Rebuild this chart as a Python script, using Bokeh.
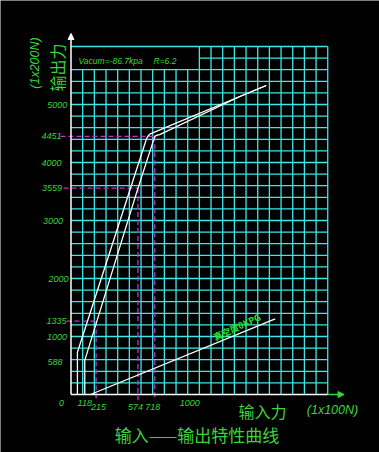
import numpy as np
from bokeh.plotting import figure
from bokeh.models import Range1d, Label, Arrow, NormalHead
from bokeh.embed import file_html
from bokeh.resources import INLINE

# ---------------- data ----------------
# curve A (upper / left branch)
curve_a_x = [55, 55, 647, 662, 680, 700, 1673]
curve_a_y = [0, 729, 4409, 4460, 4495, 4510, 5328]
# curve B (lower / right branch)
curve_b_x = [118, 118, 574, 718, 735, 760, 1452, 1673]
curve_b_y = [0, 588, 3559, 4451, 4470, 4480, 5142, 5328]
# vacuum 0 kPa line
vac_x = [167, 1750]
vac_y = [0, 1305]
# marked points (dashed guide lines); y of "1335" as drawn in the picture
mark_x = [215, 574, 718]
mark_y = [1265, 3559, 4451]

y_tick_labels = ["5000", "4451", "4000", "3559", "3000", "2000", "1335", "1000", "588"]
y_tick_values = [5000, 4451, 4000, 3559, 3000, 2000, 1265, 1000, 560]
x_tick_labels = ["118", "215", "574", "718", "1000"]
x_tick_values = [118, 215, 574, 718, 1000]

X_MAX, X_STEP = 2200, 100
Y_MAX, Y_STEP = 6000, 200
BOX_X, BOX_Y = 1100, 5600

# ---------------- layout helpers ----------------
W, H = 379, 452
X0_PX, SX = 70.5, 0.1167   # pixel of x=0, px per unit
Y0_PX, SY = 394.0, 0.058   # pixel (from top) of y=0, px per unit

GREEN = "#3cd43c"
CYAN = "#3ee6e6"
MAG = "#c832c8"

p = figure(width=W, height=H, output_backend="svg", toolbar_location=None,
           x_range=Range1d(-X0_PX / SX, (W - X0_PX) / SX),
           y_range=Range1d(-(H - Y0_PX) / SY, Y0_PX / SY),
           min_border=0)
p.axis.visible = False
p.grid.visible = False
p.outline_line_color = None
p.background_fill_color = "black"
p.border_fill_color = "black"

# ---------------- grid ----------------
gx0, gy0, gx1, gy1 = [], [], [], []
for xv in np.arange(X_STEP, X_MAX + 1, X_STEP):
    top = BOX_Y if xv < BOX_X else Y_MAX
    gx0.append(xv); gy0.append(0); gx1.append(xv); gy1.append(top)
for yv in np.arange(Y_STEP, Y_MAX + 1, Y_STEP):
    left = BOX_X if (BOX_Y < yv < Y_MAX) else 0
    gx0.append(left); gy0.append(yv); gx1.append(X_MAX); gy1.append(yv)
p.segment(gx0, gy0, gx1, gy1, line_color=CYAN, line_width=1.3)

# ---------------- dashed guide lines ----------------
ext_left = [-90, -64, -39][::-1]
for mx, my, el in zip(mark_x, mark_y, [-39, -64, -90]):
    p.line([el, mx], [my, my], line_color=MAG, line_width=1.3, line_dash="5 3")
    p.line([mx, mx], [my, -100], line_color=MAG, line_width=1.3, line_dash="5 3")

# ---------------- axes ----------------
p.line([0, X_MAX], [0, 0], line_color="white", line_width=1.5)
p.add_layout(Arrow(end=NormalHead(size=6, fill_color="white", line_color="white"),
                   x_start=0, y_start=0, x_end=0, y_end=Y_MAX + 225,
                   line_color="white", line_width=1.5))
p.add_layout(Arrow(end=NormalHead(size=6, fill_color=GREEN, line_color=GREEN),
                   x_start=X_MAX, y_start=0, x_end=X_MAX + 140, y_end=0,
                   line_color=GREEN, line_width=1.5))

# ---------------- curves ----------------
p.line(curve_a_x, curve_a_y, line_color="white", line_width=1.3)
p.line(curve_b_x, curve_b_y, line_color="white", line_width=1.3)
p.line(vac_x, vac_y, line_color="white", line_width=1.3)

# ---------------- texts ----------------
NUM_FONT = "Liberation Sans"
CJK_FONT = "Noto Sans CJK SC"

y_lab_px = [56.7, 51, 51, 51.5, 52.5, 58, 56, 56.5, 54.5]
for t, v, xp in zip(y_tick_labels, y_tick_values, y_lab_px):
    p.add_layout(Label(x=xp, y=v, x_units="screen", y_units="data", text=t,
                       text_font=NUM_FONT, text_font_style="italic",
                       text_font_size="9px", text_color=GREEN,
                       text_align="center", text_baseline="middle"))

x_lab_py = [402.5, 406.5, 406.5, 406.5, 402.5]
x_lab_dx = [0, 2.5, -2.5, -2, 2]
for t, v, yp, dx in zip(x_tick_labels, x_tick_values, x_lab_py, x_lab_dx):
    p.add_layout(Label(x=X0_PX + v * SX + dx, y=H - yp, x_units="screen", y_units="screen",
                       text=t, text_font=NUM_FONT, text_font_style="italic",
                       text_font_size="9px", text_color=GREEN,
                       text_align="center", text_baseline="middle"))
p.add_layout(Label(x=61, y=H - 402.5, x_units="screen", y_units="screen", text="0",
                   text_font=NUM_FONT, text_font_style="italic", text_font_size="9px",
                   text_color=GREEN, text_align="center", text_baseline="middle"))

# legend box text
p.add_layout(Label(x=78, y=H - 60, x_units="screen", y_units="screen",
                   text="Vacum=-86.7kpa", text_font=NUM_FONT, text_font_style="italic",
                   text_font_size="8.5px", text_color=GREEN,
                   text_align="left", text_baseline="middle"))
p.add_layout(Label(x=153, y=H - 60, x_units="screen", y_units="screen",
                   text="R=6.2", text_font=NUM_FONT, text_font_style="italic",
                   text_font_size="8.5px", text_color=GREEN,
                   text_align="left", text_baseline="middle"))

# vacuum line label
p.add_layout(Label(x=236.5, y=H - 326.5, x_units="screen", y_units="screen",
                   text="真空度0KPG", text_font=CJK_FONT, text_font_style="bold",
                   text_font_size="9px", text_color="#2ee02e", angle=25, angle_units="deg",
                   text_align="center", text_baseline="middle"))

# axis titles
p.add_layout(Label(x=56, y=H - 67, x_units="screen", y_units="screen", text="输出力",
                   text_font=CJK_FONT, text_font_size="16px", text_color=GREEN,
                   angle=90, angle_units="deg", text_align="center", text_baseline="middle"))
p.add_layout(Label(x=34, y=H - 62.5, x_units="screen", y_units="screen", text="(1x200N)",
                   text_font=NUM_FONT, text_font_style="italic", text_font_size="12.5px",
                   text_color=GREEN, angle=90, angle_units="deg",
                   text_align="center", text_baseline="middle"))
p.add_layout(Label(x=262, y=H - 410, x_units="screen", y_units="screen", text="输入力",
                   text_font=CJK_FONT, text_font_size="16px", text_color=GREEN,
                   text_align="center", text_baseline="middle"))
p.add_layout(Label(x=332, y=H - 409, x_units="screen", y_units="screen", text="(1x100N)",
                   text_font=NUM_FONT, text_font_style="italic", text_font_size="12.5px",
                   text_color=GREEN, text_align="center", text_baseline="middle"))
p.add_layout(Label(x=196.5, y=H - 433.5, x_units="screen", y_units="screen",
                   text="输入——输出特性曲线", text_font=CJK_FONT, text_font_size="17px",
                   text_color=GREEN, text_align="center", text_baseline="middle"))

open("out.html", "w").write(file_html(p, INLINE))
